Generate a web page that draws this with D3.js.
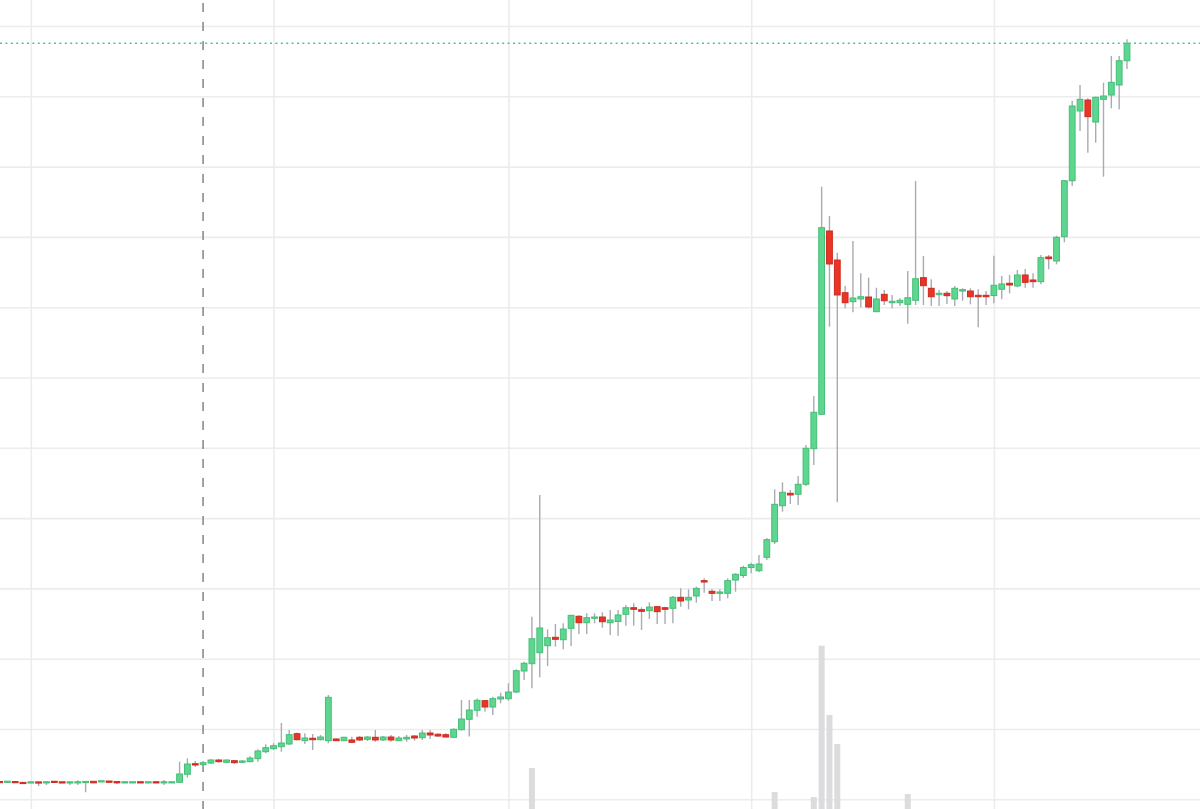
<!DOCTYPE html>
<html><head><meta charset="utf-8">
<script src="https://cdn.jsdelivr.net/npm/d3@7"></script>
<style>html,body{margin:0;padding:0;background:#fff;overflow:hidden}</style>
</head><body><svg id="chart" width="1200" height="809"></svg>
<script>
// ---- data ----
const startDate = "2023-09-27";      // first (partly visible) daily candle
const markerDate = "2023-10-23";     // dashed vertical marker
const gridValues = [0,10,20,30,40,50,60,70,80,90,100,110];

const open = [
2.48,2.42,2.50,2.40,2.34,2.44,2.34,2.56,2.46,2.34,
2.36,2.38,2.56,2.50,2.60,2.52,2.34,2.34,2.48,2.34,
2.48,2.34,2.34,2.42,3.56,5.06,4.92,5.16,5.59,5.26,
5.49,5.26,5.35,5.78,6.77,7.20,7.48,7.87,9.33,8.34,
8.68,8.48,8.34,8.58,8.34,8.44,8.82,8.53,8.82,8.44,
8.86,8.34,8.58,9.00,8.76,9.43,9.25,9.19,8.82,9.90,
11.38,12.66,14.03,13.13,14.27,14.31,15.26,18.25,19.29,20.85,
21.85,23.04,22.70,24.32,26.03,25.12,25.75,25.93,25.12,25.29,
26.32,27.25,26.97,26.83,27.40,27.25,27.17,28.73,28.35,28.92,
31.10,29.59,29.30,29.30,31.19,31.84,32.97,32.52,34.42,36.64,
41.76,43.53,43.39,44.81,49.87,54.77,80.84,76.71,72.06,70.78,
71.17,71.45,69.36,71.83,70.64,70.64,70.41,70.98,74.20,72.69,
71.78,71.98,71.17,72.30,72.30,71.69,71.69,71.66,72.55,73.40,
73.02,74.58,73.87,73.63,77.14,76.57,80.03,87.99,97.91,99.47,
96.34,99.57,100.18,101.61,105.06
];
const high = [
2.52,2.58,2.52,2.42,2.48,2.46,2.60,2.60,2.48,2.58,
2.70,2.60,2.58,2.62,2.62,2.56,2.50,2.50,2.50,2.50,
2.52,2.75,2.50,5.35,5.83,5.45,5.45,5.73,5.69,5.66,
5.59,5.59,6.12,7.11,7.82,7.97,10.85,9.86,9.50,9.39,
9.29,9.15,14.84,8.65,8.90,8.90,9.00,9.00,9.86,9.00,
9.15,9.00,9.15,9.15,9.86,9.86,9.39,9.39,10.07,14.12,
14.12,14.34,14.12,14.59,15.16,16.50,18.49,19.57,25.97,43.29,
24.18,24.94,25.04,26.22,26.22,26.46,26.46,26.60,26.93,26.93,
27.64,27.88,27.31,28.02,27.40,27.40,28.92,30.01,29.87,30.24,
31.44,29.87,29.87,31.44,32.15,33.23,33.66,34.75,37.17,44.10,
45.09,44.00,45.99,50.40,57.37,87.14,82.97,77.75,73.02,79.42,
74.82,74.20,72.77,72.45,71.74,71.27,75.15,87.95,77.28,73.97,
72.45,72.30,73.02,72.69,72.69,72.55,72.30,77.31,74.44,74.58,
75.29,75.43,74.82,77.43,77.43,80.17,88.09,99.37,101.61,99.72,
99.94,101.93,105.73,105.73,108.11
];
const low = [
2.40,2.40,2.36,2.20,2.32,1.89,2.03,2.38,2.32,2.03,
2.05,1.00,2.32,2.48,2.40,2.18,2.30,2.30,2.30,2.30,
2.30,2.03,2.32,2.36,3.10,4.64,4.59,5.02,5.23,5.16,
5.02,5.16,5.26,5.35,6.54,7.01,6.77,7.72,8.36,7.87,
7.01,8.36,7.97,8.29,8.29,7.97,8.29,8.29,8.19,8.29,
8.19,8.29,8.19,8.34,8.44,8.58,8.90,8.82,8.76,9.79,
8.93,11.75,12.46,11.99,13.66,14.03,15.12,16.97,15.79,17.35,
18.96,21.71,21.34,21.81,23.51,23.51,25.04,24.41,23.37,23.27,
24.69,24.69,24.08,25.65,24.94,24.94,25.04,27.40,27.03,27.97,
29.39,28.21,28.21,28.59,29.53,31.48,32.15,32.29,34.04,36.32,
40.91,42.01,41.86,44.57,47.55,54.67,67.23,42.25,69.84,69.27,
69.99,69.84,69.36,70.31,69.84,70.17,67.65,70.31,70.31,70.17,
70.17,70.46,70.17,70.92,70.41,67.14,70.31,70.55,71.12,71.98,
72.83,72.77,72.77,73.26,75.39,76.10,79.23,87.24,95.06,91.98,
93.40,88.56,98.29,98.15,103.88
];
const close = [
2.42,2.56,2.38,2.24,2.46,2.34,2.48,2.40,2.34,2.46,
2.46,2.54,2.34,2.60,2.42,2.34,2.48,2.48,2.34,2.48,
2.34,2.48,2.48,3.60,5.02,4.88,5.21,5.59,5.35,5.59,
5.21,5.45,5.87,6.87,7.34,7.62,8.01,9.19,8.48,8.72,
8.48,8.86,14.51,8.34,8.82,8.11,8.44,8.86,8.44,8.86,
8.44,8.72,8.82,8.72,9.43,9.15,9.00,8.86,9.96,11.42,
12.70,14.08,13.13,14.31,14.55,15.26,18.29,19.35,22.84,24.37,
22.99,22.76,24.22,26.17,25.12,25.83,25.93,25.26,25.50,26.22,
27.25,27.03,26.74,27.35,26.69,27.03,28.73,28.21,28.73,30.01,
30.91,29.30,29.49,31.10,32.01,32.97,33.37,33.47,36.93,41.96,
43.67,43.29,44.81,49.93,55.05,81.31,76.15,71.74,70.64,71.31,
71.49,70.03,71.17,70.92,70.84,70.98,71.35,74.05,73.06,71.49,
71.98,71.64,72.69,72.49,71.49,71.49,71.49,73.12,73.30,73.16,
74.58,73.54,73.63,77.04,76.90,79.94,87.99,98.62,99.57,97.10,
99.86,100.04,101.99,105.06,107.54
];
const volume = [
0,0,0,0,0,0,0,0,0,0,
0,0,0,0,0,0,0,0,0,0,
0,0,0,0,0,0,0,0,0,0,
0,0,0,0,0,0,0,0,0,0,
0,0,0,0,0,0,0,0,0,0,
0,0,0,0,0,0,0,0,0,0,
0,0,0,0,0,0,0,0,25.1,0,
0,0,0,0,0,0,0,0,0,0,
0,0,0,0,0,0,0,0,0,0,
0,0,0,0,0,0,0,0,0,10.4,
0,0,0,0,7.3,100,57.6,39.8,0,0,
0,0,0,0,0,0,9.2,0,0,0,
0,0,0,0,0,0,0,0,0,0,
0,0,0,0,0,0,0,0,0,0,
0,0,0,0,0
];

// ---- chart ----
const W = 1200, H = 809;
const parse = d3.utcParse("%Y-%m-%d");
const t0 = parse(startDate);
const candles = open.map((o, i) => ({
  date: d3.utcDay.offset(t0, i), o, h: high[i], l: low[i], c: close[i], v: volume[i]
}));

const x = d3.scaleUtc()
  .domain([candles[0].date, candles[candles.length - 1].date])
  .range([-0.5, 1127]);
const y = d3.scaleLinear().domain([0, 110]).range([799.3, 26]);
const yv = d3.scaleLinear().domain([0, 100]).range([809, 645.7]);

const svg = d3.select("#chart");
svg.append("rect").attr("width", W).attr("height", H).attr("fill", "#ffffff");

// horizontal grid
const gy = svg.append("g")
  .call(d3.axisLeft(y).tickValues(gridValues).tickSize(-W).tickFormat(""));
gy.select(".domain").remove();
gy.selectAll("line").attr("stroke", "#ececec").attr("stroke-width", 1.6);

// vertical grid (month starts)
const gx = svg.append("g").attr("transform", `translate(0,${H})`)
  .call(d3.axisBottom(x).ticks(d3.utcMonth.every(1)).tickSize(-H).tickFormat(""));
gx.select(".domain").remove();
gx.selectAll("line").attr("stroke", "#ececec").attr("stroke-width", 1.6);

// volume
svg.append("g").selectAll("rect").data(candles.filter(d => d.v > 0)).join("rect")
  .attr("x", d => x(d.date) - 3)
  .attr("width", 6)
  .attr("y", d => yv(d.v))
  .attr("height", d => yv(0) - yv(d.v))
  .attr("fill", "#dcdcde");

// marker dashed line
const mx = x(parse(markerDate));
svg.append("line")
  .attr("x1", mx).attr("x2", mx).attr("y1", 0).attr("y2", H)
  .attr("stroke", "#7f848d").attr("stroke-width", 1.5)
  .attr("stroke-dasharray", "9 10").attr("stroke-dashoffset", -3);

// wicks
svg.append("g").selectAll("line").data(candles).join("line")
  .attr("x1", d => x(d.date)).attr("x2", d => x(d.date))
  .attr("y1", d => y(d.h)).attr("y2", d => y(d.l))
  .attr("stroke", "#a9abb0").attr("stroke-width", 1.4);

// bodies
const up = "#5dd690", upB = "#46bd78", dn = "#ea3426", dnB = "#cc2a20";
svg.append("g").selectAll("rect").data(candles).join("rect")
  .attr("x", d => x(d.date) - 2.9)
  .attr("width", 5.8)
  .attr("y", d => {
    const top = y(Math.max(d.o, d.c)), bot = y(Math.min(d.o, d.c));
    return (bot - top < 1.2) ? (top + bot) / 2 - 0.6 : top;
  })
  .attr("height", d => Math.max(1.2, Math.abs(y(d.o) - y(d.c))))
  .attr("fill", d => d.c >= d.o ? up : dn)
  .attr("stroke", d => d.c >= d.o ? upB : dnB)
  .attr("stroke-width", 1);

// last price line
const last = candles[candles.length - 1];
svg.append("line")
  .attr("x1", 0).attr("x2", W).attr("y1", y(last.c)).attr("y2", y(last.c))
  .attr("stroke", "#45cc82").attr("stroke-width", 1.6)
  .attr("stroke-dasharray", "2 3.4");
</script>
</body></html>
